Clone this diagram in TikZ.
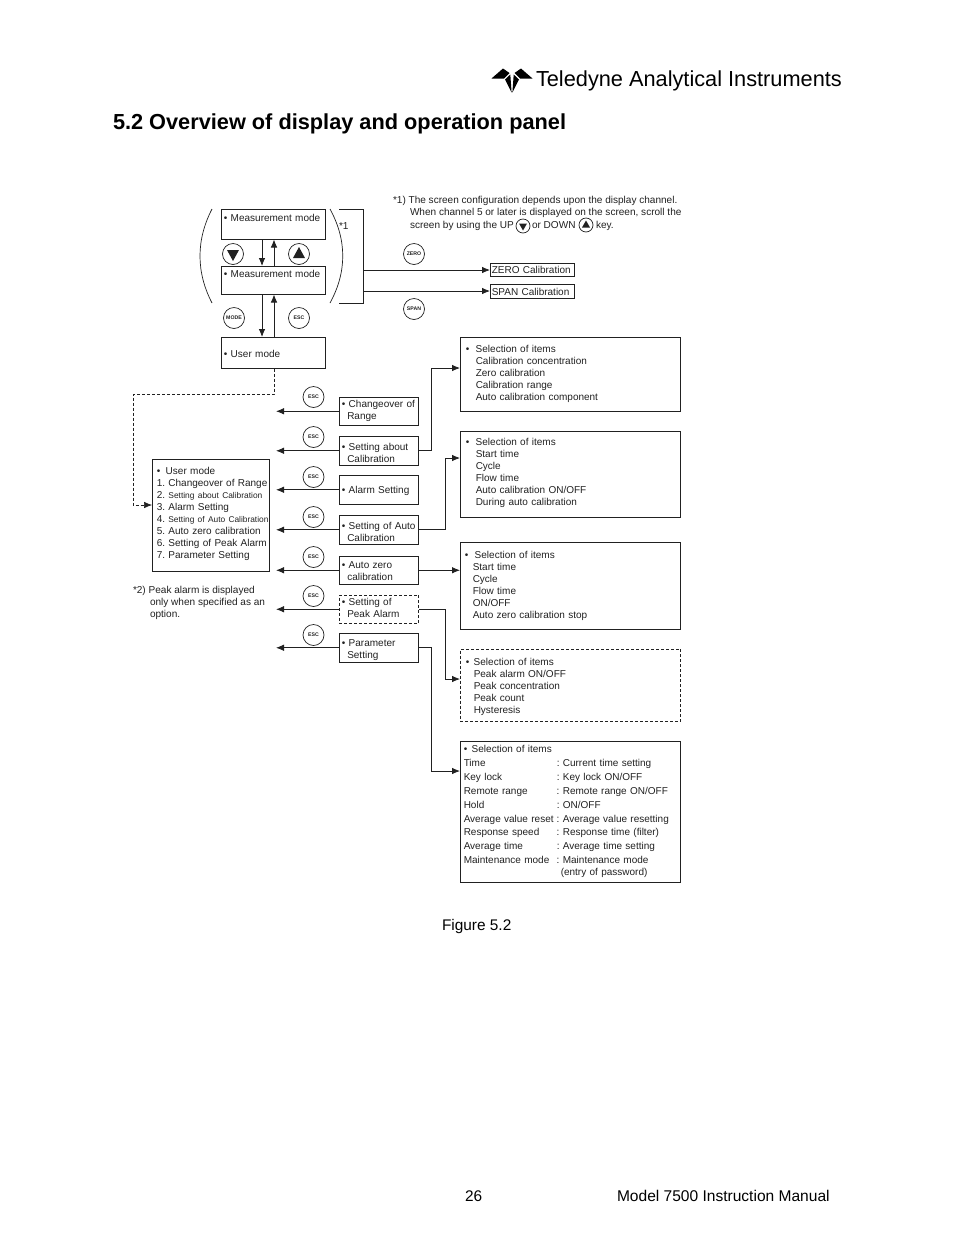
\documentclass[tikz,border=0pt]{standalone}
\usepackage{fontspec}
\setmainfont{Liberation Sans}
\usetikzlibrary{arrows.meta}
\definecolor{ink}{gray}{0.13}
\frenchspacing
\newcommand{\bul}[1][7]{\makebox[#1pt][l]{\fontsize{10}{10}\selectfont •}}
\newcommand{\dn}[1]{\rule{0pt}{\dimexpr7.3pt+#1pt*2\relax}}
\newcommand{\up}[1]{\\[#1pt]\mbox{}}
\newcommand{\bx}[8][]{\node[box,#1,anchor=north west,minimum width={(#5-#3-.5)*1pt},minimum height={(#6-#4-.5)*1pt},text width={(#5-#3-2*#7)*1pt}] (#2) at (#3,#4) {#8};}
\newcommand{\tab}[2]{\makebox[93pt][l]{#1}: #2}
\tikzset{
 box/.style={draw=ink,line width=.7pt,inner sep=0pt,outer sep=0pt,align=left,text=ink,font=\fontsize{10}{12}\selectfont},
 dash box/.style={dashed,dash pattern=on 3pt off 2pt},
 btn/.style={circle,draw=ink,line width=.7pt,minimum size=21pt,inner sep=0pt,outer sep=0pt,font=\fontsize{5.2}{6}\selectfont\bfseries,text=ink},
 sbtn/.style={circle,draw=ink,line width=.7pt,minimum size=14pt,inner sep=0pt,outer sep=0pt},
 conn/.style={draw=ink,line width=.8pt},
 arr/.style={conn,-{Latex[length=8pt,width=6.5pt]}},
 note/.style={inner sep=0pt,outer sep=0pt,anchor=base west,align=left,text=ink,font=\fontsize{10.05}{12}\selectfont},
 page/.style={inner sep=0pt,outer sep=0pt,anchor=base west,text=black},
}
\begin{document}
\begin{tikzpicture}[x=1pt,y=-1pt]
\useasboundingbox (0,0) rectangle (954,1235);
% header
\fill[black] (491.5,78.5) -- (503,68.5) -- (509.5,73) -- (504,78.5) -- cycle;
\fill[black] (532.5,78.5) -- (521,68.5) -- (514.5,73) -- (520,78.5) -- cycle;
\fill[black] (505,79.5) -- (510.3,74.5) -- (511.6,92.5) -- cycle;
\fill[black] (519,79.5) -- (513.7,74.5) -- (512.4,92.5) -- cycle;
\node[page,font=\fontsize{21.75}{24}\selectfont] (brand) at (536,86) {Teledyne Analytical Instruments};
\node[page,font=\fontsize{21.74}{24}\selectfont\bfseries] (title) at (113,129) {5.2 Overview of display and operation panel};
\node[page,font=\fontsize{15.4}{18}\selectfont] (fig) at (442,930) {Figure 5.2};
\node[page,font=\fontsize{15.4}{18}\selectfont] (pg) at (465,1201) {26};
\node[page,font=\fontsize{15.55}{18}\selectfont] (manual) at (617,1201) {Model 7500 Instruction Manual};
% top boxes
\bx{m1}{221}{209}{326}{240}{3}{\bul Measurement mode\up{0}}
\bx{m2}{221}{266}{326}{295}{3}{\bul Measurement mode\up{1}}
\bx{um}{221}{337}{326}{369}{3}{\dn{1.5}\bul User mode}
\draw[arr] (m1.south -| 262,0) -- (m2.north -| 262,0);
\draw[arr] (m2.north -| 274,0) -- (m1.south -| 274,0);
\draw[arr] (m2.south -| 262,0) -- (um.north -| 262,0);
\draw[arr] (um.north -| 274,0) -- (m2.south -| 274,0);
\node[btn] (bdown) at (233,254) {};
\node[btn] (bup) at (299,254) {};
\fill[ink] (bdown.center) ++(-6,-4) -- ++(12,0) -- ++(-6,11) -- cycle;
\fill[ink] (bup.center) ++(-6,4) -- ++(12,0) -- ++(-6,-11) -- cycle;
\node[btn] (bmode) at (234,318) {MODE};
\node[btn] (besc) at (299,318) {ESC};
\draw[ink,line width=.7pt] (212,209) .. controls (196,240) and (196,272) .. (212,303);
\draw[ink,line width=.7pt] (330,209) .. controls (347,240) and (347,272) .. (330,303);
\coordinate (bt) at (339,209);
\coordinate (bb) at (339,303);
\draw[conn,line width=.7pt] (bt) -- (363,209) -- (363,303) -- (bb);
\node[note] (star1) at (339,229) {*1};
% zero span
\node[btn] (bzero) at (414,254) {ZERO};
\node[btn] (bspan) at (414,309) {SPAN};
\bx{zc}{490}{263}{575}{277}{2}{ZERO Calibration}
\bx{sc}{490}{284.5}{575}{299}{2}{SPAN Calibration}
\coordinate (jz) at (363,270);
\coordinate (js) at (363,291);
\draw[arr] (jz) -- (zc.west |- jz);
\draw[arr] (js) -- (sc.west |- js);
% note 1
\node[note] (n1a) at (393,203) {*1) The screen configuration depends upon the display channel.};
\node[note] (n1b) at (410,215) {When channel 5 or later is displayed on the screen, scroll the};
\node[note] (n1c) at (410,228) {screen by using the UP};
\node[sbtn] (sd) at (523,226) {};
\fill[ink] (sd.center) ++(-4,-2.5) -- ++(8,0) -- ++(-4,7) -- cycle;
\node[note] (n1d) at (532,228) {or DOWN};
\node[sbtn] (su) at (586,225) {};
\fill[ink] (su.center) ++(-4,2.5) -- ++(8,0) -- ++(-4,-7) -- cycle;
\node[note] (n1e) at (596,228) {key.};
% user list
\bx{ul}{152}{459}{270}{572}{2}{\mbox{\hspace*{3pt}\bul[9]User mode}\\
\mbox{\hspace*{3pt}1. Changeover of Range}\\
\mbox{\hspace*{3pt}2. {\fontsize{8.4}{12}\selectfont Setting about Calibration}}\\
\mbox{\hspace*{3pt}3. Alarm Setting}\\
\mbox{\hspace*{3pt}4. {\fontsize{8.35}{12}\selectfont Setting of Auto Calibration}}\\
\mbox{\hspace*{3pt}5. Auto zero calibration}\\
\mbox{\hspace*{3pt}6. Setting of Peak Alarm}\\
\mbox{\hspace*{3pt}7. Parameter Setting}\up{-8}}
\draw[conn,dashed,dash pattern=on 3pt off 2pt,line width=.6pt,-{Latex[length=8pt,width=6.5pt]}] (um.south -| 274,0) -- (274,394) -- (133,394) |- (ul.west |- 0,505);
\node[note] (n2a) at (133,593) {*2) Peak alarm is displayed};
\node[note] (n2b) at (150,605) {only when specified as an};
\node[note] (n2c) at (150,617) {option.};
% middle column
\bx{sr}{339}{397}{419}{426}{3}{\bul Changeover of\\\hspace*{5.5pt}Range}
\bx{sa}{339}{436}{419}{466}{3}{\dn{2}\bul Setting about\\\hspace*{5.5pt}Calibration}
\bx{sl}{339}{475}{419}{505}{3}{\dn{1}\bul Alarm Setting}
\bx{so}{339}{515}{419}{545}{3}{\dn{2}\bul Setting of Auto\\\hspace*{5.5pt}Calibration}
\bx{sz}{339}{556}{419}{585}{3}{\dn{1}\bul Auto zero\\\hspace*{5.5pt}calibration}
\bx[dash box]{sp}{339}{595}{419}{624}{3}{\bul Setting of\\\hspace*{5.5pt}Peak Alarm\up{-10}}
\bx{st}{339}{633}{419}{663}{3}{\dn{2}\bul Parameter\\\hspace*{5.5pt}Setting}
\foreach \n/\y in {e1/397,e2/437,e3/477,e4/517,e5/557,e6/596,e7/635}
  \node[btn] (\n) at (313.5,\y) {ESC};
\foreach \n in {sr,sa,sl,so,sz,sp,st}
  \draw[arr] (\n.west) -- (\n.west -| 276,0);
% right column
\bx{ra}{460}{337}{681}{412}{6}{\bul[10]Selection of items\\
\hspace*{10pt}Calibration concentration\\
\hspace*{10pt}Zero calibration\\
\hspace*{10pt}Calibration range\\
\hspace*{10pt}Auto calibration component}
\bx{rb}{460}{431}{681}{518}{6}{\bul[10]Selection of items\\
\hspace*{10pt}Start time\\
\hspace*{10pt}Cycle\\
\hspace*{10pt}Flow time\\
\hspace*{10pt}Auto calibration ON/OFF\\
\hspace*{10pt}During auto calibration\up{-8}}
\bx{rc}{460}{542}{681}{630}{5}{\dn{.5}\bul[10]Selection of items\\
\hspace*{8pt}Start time\\
\hspace*{8pt}Cycle\\
\hspace*{8pt}Flow time\\
\hspace*{8pt}ON/OFF\\
\hspace*{8pt}Auto zero calibration stop}
\bx[dash box]{rd}{460}{649}{681}{722}{6}{\dn{1.5}\bul[8]Selection of items\\
\hspace*{8pt}Peak alarm ON/OFF\\
\hspace*{8pt}Peak concentration\\
\hspace*{8pt}Peak count\\
\hspace*{8pt}Hysteresis}
\bx[font=\fontsize{10}{13.85}\selectfont]{re}{460}{741}{681}{883}{4}{\bul[8]Selection of items\\
\tab{Time}{Current time setting}\\
\tab{Key lock}{Key lock ON/OFF}\\
\tab{Remote range}{Remote range ON/OFF}\\
\tab{Hold}{ON/OFF}\\
\tab{Average value reset}{Average value resetting}\\
\tab{Response speed}{Response time (filter)}\\
\tab{Average time}{Average time setting}\\
\tab{Maintenance mode}{Maintenance mode}\\[-1.8pt]
\hspace*{97pt}(entry of password)\up{-11.5}}
\draw[arr] (sa.east) -| (431,368) -- (ra.west |- 0,368);
\draw[arr] (so.east) -| (445,458) -- (rb.west |- 0,458);
\draw[arr] (sz.east) -- (rc.west |- sz.east);
\draw[arr] (sp.east) -| (445,679) -- (rd.west |- 0,679);
\draw[arr] (st.east) -| (431,771) -- (re.west |- 0,771);
\end{tikzpicture}
\end{document}
